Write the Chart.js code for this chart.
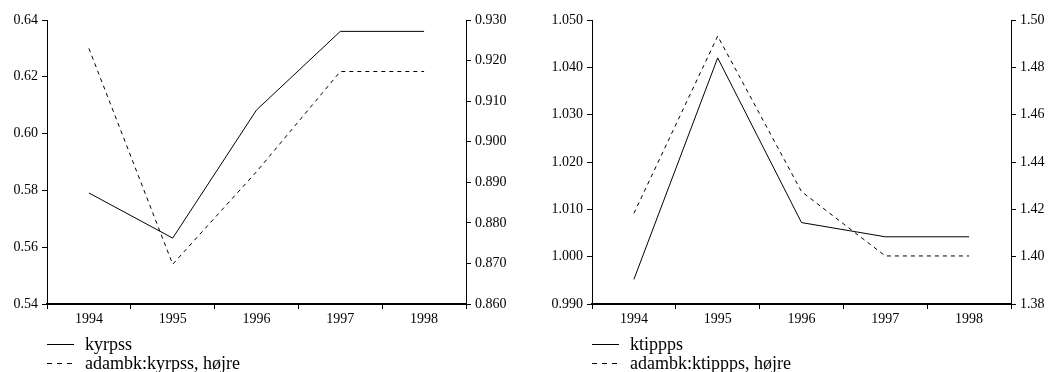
<!DOCTYPE html>
<html>
<head>
<meta charset="utf-8">
<script src="https://cdn.jsdelivr.net/npm/chart.js"></script>
<style>
  html, body { margin: 0; padding: 0; background: #fff; }
  #wrap { position: relative; width: 1051px; height: 372px; overflow: hidden; }
  canvas { position: absolute; top: 0; }
</style>
</head>
<body>
<div id="wrap">
  <canvas id="c1" width="525" height="372" style="left:0px"></canvas>
  <canvas id="c2" width="526" height="372" style="left:525px"></canvas>
</div>
<script>
// ---- data ----
const years = ['1994', '1995', '1996', '1997', '1998'];

const kyrpss = [0.5791, 0.5632, 0.6083, 0.6360, 0.6360];
const adambkKyrpss = [0.9230, 0.8698, 0.8926, 0.9173, 0.9173];

const ktippps = [0.9952, 1.0420, 1.0072, 1.0042, 1.0042];
const adambkKtippps = [1.4183, 1.4932, 1.4275, 1.4003, 1.4003];

const label1a = 'kyrpss';
const label1b = 'adambk:kyrpss, højre';
const label2a = 'ktippps';
const label2b = 'adambk:ktippps, højre';

const ticks1Left = [0.54, 0.56, 0.58, 0.60, 0.62, 0.64];
const ticks1Right = [0.860, 0.870, 0.880, 0.890, 0.900, 0.910, 0.920, 0.930];
const ticks2Left = [0.990, 1.000, 1.010, 1.020, 1.030, 1.040, 1.050];
const ticks2Right = [1.38, 1.40, 1.42, 1.44, 1.46, 1.48, 1.50];

// ---- styling ----
const FONT = 'Liberation Serif';
const tickFont = { family: FONT, size: 14 };

const legendPlugin = {
  id: 'bottomLegend',
  afterDraw(chart) {
    const ctx = chart.ctx;
    const ca = chart.chartArea;
    ctx.save();
    chart.data.datasets.forEach((ds, i) => {
      const y = ca.bottom + 40 + i * 19;
      ctx.beginPath();
      ctx.strokeStyle = '#000';
      ctx.lineWidth = 1;
      ctx.setLineDash(ds.borderDash && ds.borderDash.length ? [5, 5] : []);
      ctx.moveTo(ca.left, y + 0.5);
      ctx.lineTo(ca.left + 27, y + 0.5);
      ctx.stroke();
      ctx.setLineDash([]);
      ctx.fillStyle = '#000';
      ctx.font = '18px "' + FONT + '"';
      ctx.textBaseline = 'alphabetic';
      ctx.textAlign = 'left';
      ctx.fillText(ds.label, ca.left + 38, y + 6);
    });
    ctx.restore();
  }
};

function makeChart(id, dA, dB, lA, lB, tL, tR, decL, decR, wL, wR) {
  const fixTicks = (arr) => (scale) => { scale.ticks = arr.map(v => ({ value: v })); };
  return new Chart(document.getElementById(id), {
    type: 'line',
    data: {
      labels: years,
      datasets: [
        { label: lA, data: dA, yAxisID: 'y', borderColor: '#000', borderWidth: 1, pointRadius: 0, tension: 0, fill: false },
        { label: lB, data: dB, yAxisID: 'y1', borderColor: '#000', borderWidth: 1, borderDash: [4, 4], pointRadius: 0, tension: 0, fill: false }
      ]
    },
    options: {
      responsive: false,
      animation: false,
      devicePixelRatio: 1,
      layout: { padding: { top: 20, left: 0, right: 0, bottom: 0 } },
      plugins: { legend: { display: false }, tooltip: { enabled: false } },
      scales: {
        x: {
          type: 'category',
          offset: true,
          grid: { offset: true, drawOnChartArea: false, tickLength: 5, color: '#000', lineWidth: 1 },
          border: { color: '#000', width: 2 },
          ticks: { font: tickFont, color: '#000', maxRotation: 0, autoSkip: false, padding: 2 },
          afterFit(s) { s.height = 68; }
        },
        y: {
          position: 'left',
          min: tL[0], max: tL[tL.length - 1],
          afterBuildTicks: fixTicks(tL),
          grid: { drawOnChartArea: false, tickLength: 5, color: '#000', lineWidth: 1 },
          border: { color: '#000', width: 1 },
          ticks: { font: tickFont, color: '#000', padding: 4, callback: (v) => Number(v).toFixed(decL) },
          afterFit(s) { s.width = wL; }
        },
        y1: {
          position: 'right',
          min: tR[0], max: tR[tR.length - 1],
          afterBuildTicks: fixTicks(tR),
          grid: { drawOnChartArea: false, tickLength: 5, color: '#000', lineWidth: 1 },
          border: { color: '#000', width: 1 },
          ticks: { font: tickFont, color: '#000', padding: 4, callback: (v) => Number(v).toFixed(decR) },
          afterFit(s) { s.width = wR; }
        }
      }
    },
    plugins: [legendPlugin]
  });
}

makeChart('c1', kyrpss, adambkKyrpss, label1a, label1b, ticks1Left, ticks1Right, 2, 3, 47, 59);
makeChart('c2', ktippps, adambkKtippps, label2a, label2b, ticks2Left, ticks2Right, 3, 2, 67, 40);
</script>
</body>
</html>
